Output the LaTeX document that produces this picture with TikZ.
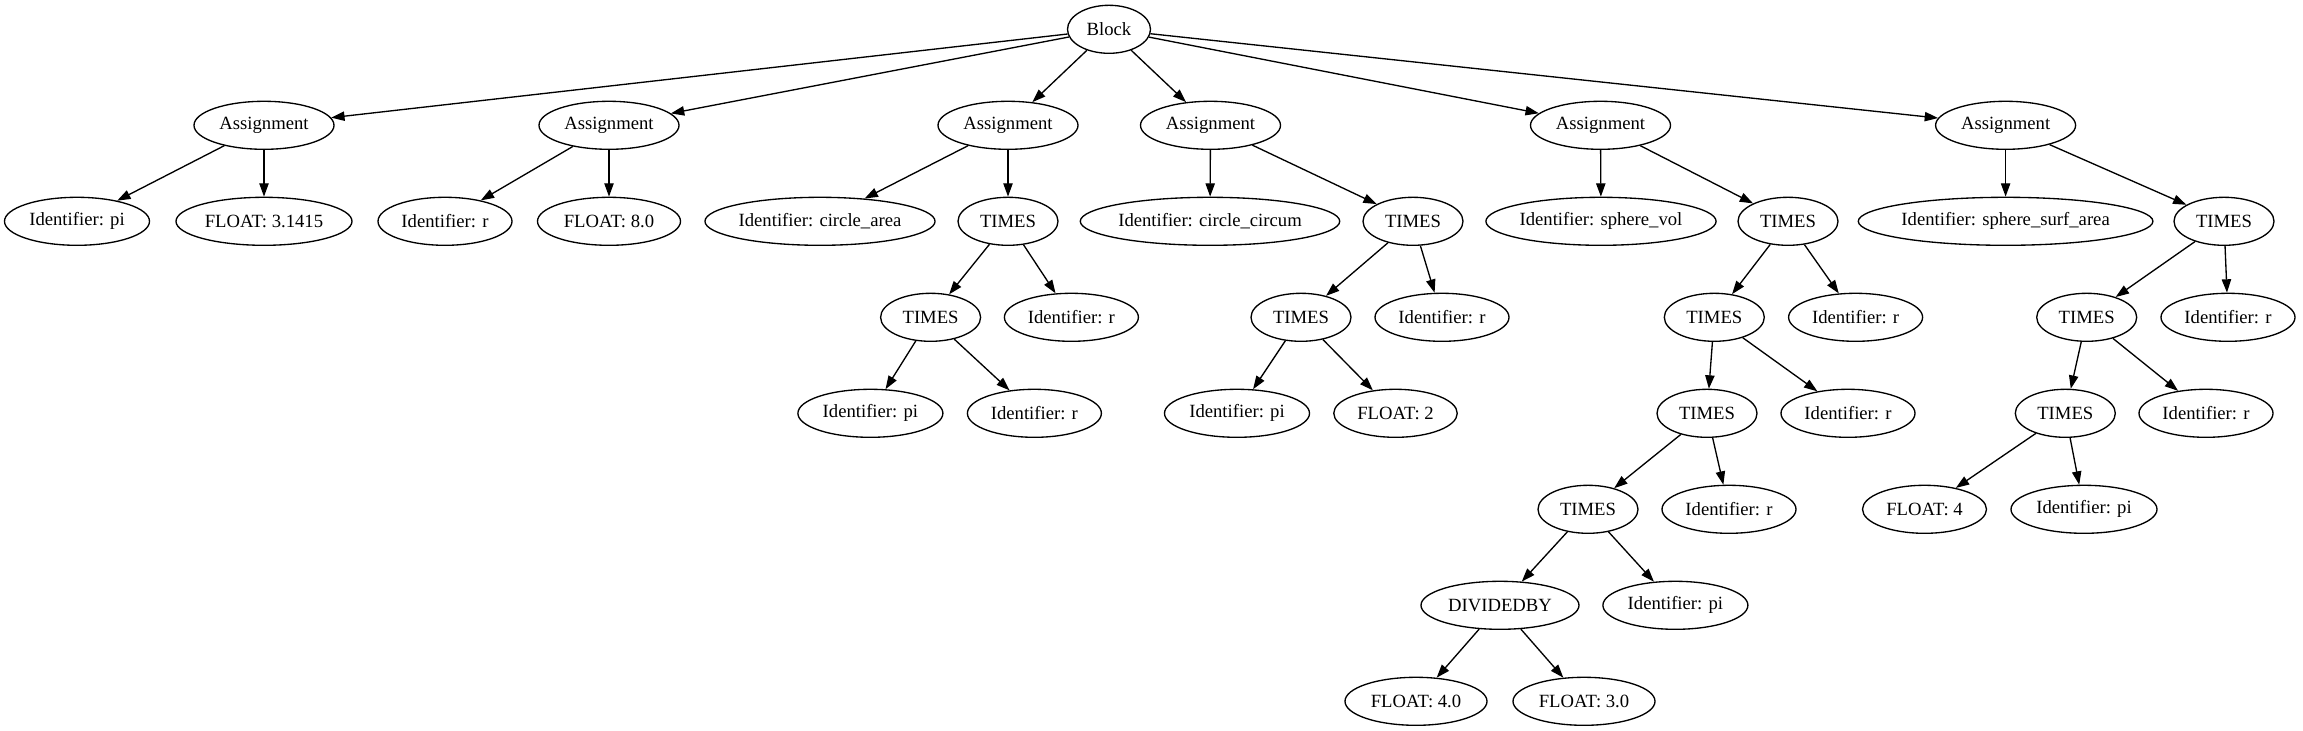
\documentclass[tikz,border=0pt]{standalone}
\usepackage{fontspec}
\setmainfont{Liberation Serif}
\usetikzlibrary{shapes.geometric,arrows.meta}
\begin{document}
\begin{tikzpicture}[x=0.75pt,y=-0.75pt,
  nd/.style={draw,ellipse,line width=1pt,inner sep=0pt,minimum height=36pt,font=\fontsize{14}{16}\selectfont},
  w/.style={minimum width=#1*0.75pt},
  edge/.style={line width=1pt,-{Triangle[length=10pt,width=7pt]}}]
\useasboundingbox (0,0) rectangle (2303,731);
% row 0
\node[nd,w=83] (blk) at (1109,29.3) {Block};
% row 1
\node[nd,w=140] (a1) at (264,125.3) {Assignment};
\node[nd,w=140] (a2) at (609,125.3) {Assignment};
\node[nd,w=140] (a3) at (1008,125.3) {Assignment};
\node[nd,w=140] (a4) at (1210.5,125.3) {Assignment};
\node[nd,w=140] (a5) at (1600.5,125.3) {Assignment};
\node[nd,w=140] (a6) at (2005.6,125.3) {Assignment};
% row 2
\node[nd,w=145] (pi1) at (77,221.3) {Identifier: pi};
\node[nd,w=176] (f1) at (264,221.3) {FLOAT: 3.1415};
\node[nd,w=134] (r2) at (445,221.3) {Identifier: r};
\node[nd,w=143] (f2) at (609,221.3) {FLOAT: 8.0};
\node[nd,w=227] (ca) at (820,221.3) {Identifier: circle\_area};
\node[nd,w=100] (t3) at (1008,221.3) {TIMES};
\node[nd,w=256] (cc) at (1210,221.3) {Identifier: circle\_circum};
\node[nd,w=100] (t4) at (1413,221.3) {TIMES};
\node[nd,w=227] (sv) at (1601,221.3) {Identifier: sphere\_vol};
\node[nd,w=100] (t5) at (1788,221.3) {TIMES};
\node[nd,w=285] (ss) at (2005.6,221.3) {Identifier: sphere\_surf\_area};
\node[nd,w=100] (t6) at (2224,221.3) {TIMES};
% row 3
\node[nd,w=100] (t3a) at (930.6,317.3) {TIMES};
\node[nd,w=134] (r3) at (1071.4,317.3) {Identifier: r};
\node[nd,w=100] (t4a) at (1301,317.3) {TIMES};
\node[nd,w=134] (r4) at (1442,317.3) {Identifier: r};
\node[nd,w=100] (t5a) at (1714.3,317.3) {TIMES};
\node[nd,w=134] (r5) at (1855.6,317.3) {Identifier: r};
\node[nd,w=100] (t6a) at (2086.7,317.3) {TIMES};
\node[nd,w=134] (r6) at (2228,317.3) {Identifier: r};
% row 4
\node[nd,w=145] (pi3) at (870.4,413.3) {Identifier: pi};
\node[nd,w=134] (r3b) at (1034.4,413.3) {Identifier: r};
\node[nd,w=145] (pi4) at (1237,413.3) {Identifier: pi};
\node[nd,w=123.5] (f4a) at (1395.5,413.3) {FLOAT: 2};
\node[nd,w=100] (t5b) at (1707,413.3) {TIMES};
\node[nd,w=134] (r5b) at (1848,413.3) {Identifier: r};
\node[nd,w=100] (t6b) at (2065.3,413.3) {TIMES};
\node[nd,w=134] (r6b) at (2206,413.3) {Identifier: r};
% row 5
\node[nd,w=100] (t5c) at (1588,509.3) {TIMES};
\node[nd,w=134] (r5c) at (1729,509.3) {Identifier: r};
\node[nd,w=124] (f6) at (1924.5,509.3) {FLOAT: 4};
\node[nd,w=146] (pi6) at (2084,509.3) {Identifier: pi};
% row 6
\node[nd,w=158] (dv) at (1500,605.3) {DIVIDEDBY};
\node[nd,w=145] (pi5) at (1675.4,605.3) {Identifier: pi};
% row 7
\node[nd,w=142] (f40) at (1416,701.3) {FLOAT: 4.0};
\node[nd,w=142] (f30) at (1584,701.3) {FLOAT: 3.0};
% edges
\foreach \a/\b in {blk/a1,blk/a2,blk/a3,blk/a4,blk/a5,blk/a6,
  a1/pi1,a1/f1,a2/r2,a2/f2,a3/ca,a3/t3,a4/cc,a4/t4,a5/sv,a5/t5,a6/ss,a6/t6,
  t3/t3a,t3/r3,t3a/pi3,t3a/r3b,
  t4/t4a,t4/r4,t4a/pi4,t4a/f4a,
  t5/t5a,t5/r5,t5a/t5b,t5a/r5b,t5b/t5c,t5b/r5c,t5c/dv,t5c/pi5,dv/f40,dv/f30,
  t6/t6a,t6/r6,t6a/t6b,t6a/r6b,t6b/f6,t6b/pi6}
  \draw[edge] (\a) -- (\b);
\end{tikzpicture}
\end{document}
